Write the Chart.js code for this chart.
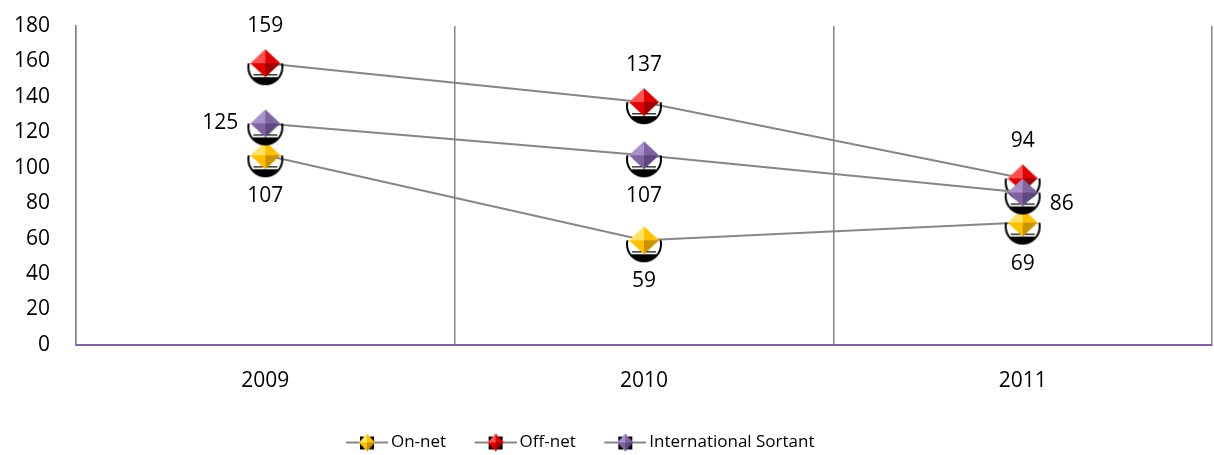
<!DOCTYPE html>
<html>
<head>
<meta charset="utf-8">
<script src="https://cdn.jsdelivr.net/npm/chart.js@4.4.0/dist/chart.umd.min.js"></script>
<style>
  html, body { margin: 0; padding: 0; background: #fff; }
  #wrap { width: 1214px; height: 455px; }
</style>
</head>
<body>
<div id="wrap"><canvas id="chart" width="1214" height="455"></canvas></div>
<script>
const years = ['2009', '2010', '2011'];
const onNet = [107, 59, 69];
const offNet = [159, 137, 94];
const intlSortant = [125, 107, 86];
const yTicks = [0, 20, 40, 60, 80, 100, 120, 140, 160, 180];

const FONT = '"Open Sans", sans-serif';

// diamond with pyramid shading
function drawDiamond(ctx, cx, cy, hw, hh, base, light, dark) {
  const quads = [
    [[cx, cy - hh], [cx - hw, cy], light],
    [[cx, cy - hh], [cx + hw, cy], base],
    [[cx, cy + hh], [cx - hw, cy], base],
    [[cx, cy + hh], [cx + hw, cy], dark],
  ];
  quads.forEach(([a, b, c]) => {
    ctx.beginPath();
    ctx.moveTo(cx, cy);
    ctx.lineTo(a[0], a[1]);
    ctx.lineTo(b[0], b[1]);
    ctx.closePath();
    ctx.fillStyle = c;
    ctx.fill();
  });
}

function makeMarker(base, light, dark) {
  const c = document.createElement('canvas');
  c.width = 44;
  c.height = 52;
  const ctx = c.getContext('2d');
  const cx = 22, cy = 26;
  // black circle artifact behind the marker
  ctx.save();
  ctx.beginPath();
  ctx.rect(0, cy, 44, 40);
  ctx.clip();
  ctx.beginPath();
  ctx.arc(cx, cy + 4, 17, 0, Math.PI * 2);
  ctx.lineWidth = 2;
  ctx.strokeStyle = '#000';
  ctx.stroke();
  ctx.restore();
  ctx.save();
  ctx.beginPath();
  ctx.rect(0, cy + 14, 44, 40);
  ctx.clip();
  ctx.beginPath();
  ctx.arc(cx, cy + 4, 17, 0, Math.PI * 2);
  ctx.fillStyle = '#000';
  ctx.fill();
  ctx.restore();
  ctx.fillStyle = '#000';
  ctx.fillRect(cx - 12, cy + 11, 24, 1.2);
  drawDiamond(ctx, cx, cy, 15, 14, base, light, dark);
  return c;
}

// legend symbol: line with small diamond, transparent space on the left
function makeLegendMarker(base, light, dark) {
  const c = document.createElement('canvas');
  c.width = 60;
  c.height = 20;
  const ctx = c.getContext('2d');
  ctx.strokeStyle = '#868686';
  ctx.lineWidth = 2;
  ctx.beginPath();
  ctx.moveTo(18, 10);
  ctx.lineTo(60, 10);
  ctx.stroke();
  ctx.fillStyle = '#000';
  ctx.fillRect(32, 4, 14, 13);
  drawDiamond(ctx, 39, 10, 8, 9, base, light, dark);
  return c;
}

const colors = [
  ['#FFC000', '#FFE066', '#C89400'],
  ['#E00000', '#FF5050', '#A00000'],
  ['#8064A2', '#A890C8', '#5E4880'],
];

const seriesNames = ['On-net', 'Off-net', 'International Sortant'];
const seriesData = [onNet, offNet, intlSortant];
const labelPos = [
  ['bottom', 'bottom', 'bottom'],
  ['top', 'top', 'top'],
  ['left', 'bottom', 'right'],
];

const datasets = seriesData.map((d, i) => ({
  label: seriesNames[i],
  data: d,
  borderColor: '#868686',
  borderWidth: 2,
  pointStyle: makeMarker(...colors[i]),
  legendImg: makeLegendMarker(...colors[i]),
  labelPos: labelPos[i],
  order: 2 - i,
  tension: 0,
  clip: false,
}));

const labelPlugin = {
  id: 'pointLabels',
  afterDatasetsDraw(chart) {
    const ctx = chart.ctx;
    ctx.save();
    ctx.font = '21px ' + FONT;
    ctx.fillStyle = '#000';
    ctx.textBaseline = 'middle';
    chart.data.datasets.forEach((ds, i) => {
      const meta = chart.getDatasetMeta(i);
      meta.data.forEach((pt, j) => {
        const pos = ds.labelPos[j];
        let x = pt.x, y = pt.y;
        ctx.textAlign = 'center';
        if (pos === 'top') y -= 37;
        if (pos === 'bottom') y += 41;
        if (pos === 'left') { x -= 27; ctx.textAlign = 'right'; }
        if (pos === 'right') { x += 39; y += 12; }
        ctx.fillText(String(ds.data[j]), x, y);
      });
    });
    ctx.restore();
  },
};

// legend in the original sits a bit left of centre
const legendShift = {
  id: 'legendShift',
  afterLayout(chart) {
    chart.legend.left -= 32;
    chart.legend.right -= 32;
  },
};

new Chart(document.getElementById('chart'), {
  type: 'line',
  data: { labels: years, datasets },
  plugins: [labelPlugin, legendShift],
  options: {
    responsive: false,
    animation: false,
    layout: { autoPadding: false, padding: { top: 0, right: 2, left: 0, bottom: -6 } },
    plugins: {
      tooltip: { enabled: false },
      legend: {
        position: 'bottom',
        labels: {
          usePointStyle: true,
          pointStyleWidth: 49,
          padding: 16,
          color: '#000',
          font: { family: FONT, size: 17 },
          generateLabels(chart) {
            return chart.data.datasets.map((ds, i) => ({
              text: ds.label,
              pointStyle: ds.legendImg,
              datasetIndex: i,
              fillStyle: '#fff',
              strokeStyle: '#fff',
              lineWidth: 0,
              fontColor: '#000',
            }));
          },
        },
      },
    },
    scales: {
      x: {
        type: 'category',
        offset: true,
        afterFit(axis) {
          axis.paddingLeft = 0;
          axis.paddingRight = 0;
        },
        grid: {
          offset: true,
          drawTicks: false,
          color: (c) => (c.index === years.length ? 'rgba(0,0,0,0)' : '#868686'),
          lineWidth: 1.5,
        },
        border: { color: '#8064A2', width: 2 },
        ticks: { color: '#000', padding: 24, font: { family: FONT, size: 21 } },
      },
      y: {
        min: 0,
        max: 180,
        afterBuildTicks(axis) {
          axis.ticks = yTicks.map((v) => ({ value: v }));
        },
        afterFit(axis) {
          axis.width = 76;
          axis.paddingTop = 26;
        },
        grid: { display: false, drawTicks: false },
        border: { color: '#868686', width: 1.5 },
        ticks: { color: '#000', padding: 26, font: { family: FONT, size: 21 } },
      },
    },
  },
});
</script>
</body>
</html>
